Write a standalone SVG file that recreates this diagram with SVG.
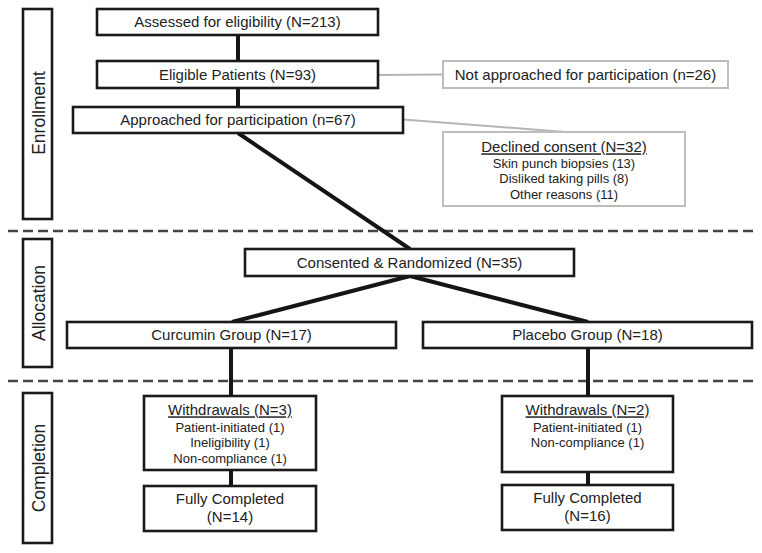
<svg xmlns="http://www.w3.org/2000/svg" width="762" height="553" viewBox="0 0 762 553">
<style>
  text { font-family: "Liberation Sans", Arial, sans-serif; fill: #222; text-anchor: middle; }
  .t15 { font-size: 15px; }
  .t13 { font-size: 13px; }
  .side { font-size: 17.5px; }
  .box { fill: #fff; stroke: #1a1a1a; stroke-width: 2.6; }
  .gbox { fill: #fff; stroke: #bdbdbd; stroke-width: 2; }
  .conn { stroke: #151515; stroke-width: 4; fill: none; }
  .gconn { stroke: #b5b5b5; stroke-width: 2; fill: none; }
  .dash { stroke: #444; stroke-width: 2.5; stroke-dasharray: 10 5; fill: none; }
  .u { text-decoration: underline; }
</style>
<rect width="762" height="553" fill="#fff"/>

<g id="separators">
  <line class="dash" x1="8" y1="231" x2="757" y2="231"/>
  <line class="dash" x1="8" y1="381" x2="757" y2="381"/>
</g>

<g id="connectors">
  <line class="conn" x1="238" y1="35" x2="238" y2="61"/>
  <line class="conn" x1="238" y1="88" x2="238" y2="107"/>
  <line class="conn" x1="238" y1="133" x2="410" y2="249"/>
  <line class="conn" x1="410" y1="276" x2="232" y2="322"/>
  <line class="conn" x1="410" y1="276" x2="588" y2="322"/>
  <line class="conn" x1="231" y1="348" x2="231" y2="396"/>
  <line class="conn" x1="231" y1="470" x2="231" y2="486"/>
  <line class="conn" x1="588" y1="348" x2="588" y2="396"/>
  <line class="conn" x1="588" y1="472" x2="588" y2="485"/>
  <line class="gconn" x1="378" y1="75" x2="443" y2="74.5"/>
  <line class="gconn" x1="403" y1="119.5" x2="565" y2="132"/>
</g>

<g id="stage-enrollment">
  <rect class="box" x="23" y="9" width="29" height="210"/>
  <text class="side" transform="translate(45 113) rotate(-90)">Enrollment</text>
</g>
<g id="stage-allocation">
  <rect class="box" x="23" y="239" width="29" height="128"/>
  <text class="side" transform="translate(45 303) rotate(-90)">Allocation</text>
</g>
<g id="stage-completion">
  <rect class="box" x="23" y="393" width="29" height="150"/>
  <text class="side" transform="translate(45 468) rotate(-90)">Completion</text>
</g>

<g id="assessed">
  <rect class="box" x="97" y="9" width="281" height="26"/>
  <text class="t15" x="237.5" y="27.3">Assessed for eligibility (N=213)</text>
</g>
<g id="eligible">
  <rect class="box" x="97" y="61" width="281" height="27"/>
  <text class="t15" x="237.5" y="79.8">Eligible Patients (N=93)</text>
</g>
<g id="not-approached">
  <rect class="gbox" x="443" y="61" width="285" height="27"/>
  <text class="t15" x="585.5" y="79.8">Not approached for participation (n=26)</text>
</g>
<g id="approached">
  <rect class="box" x="73" y="107" width="330" height="26"/>
  <text class="t15" x="238" y="125.3">Approached for participation (n=67)</text>
</g>
<g id="declined">
  <rect class="gbox" x="443" y="132" width="242" height="74"/>
  <text class="t15 u" x="564" y="152.3">Declined consent (N=32)</text>
  <text class="t13" x="564" y="167.6">Skin punch biopsies (13)</text>
  <text class="t13" x="564" y="183">Disliked taking pills (8)</text>
  <text class="t13" x="564" y="198.5">Other reasons (11)</text>
</g>
<g id="consented">
  <rect class="box" x="245" y="249" width="329" height="27"/>
  <text class="t15" x="409.5" y="267.8">Consented &amp; Randomized (N=35)</text>
</g>
<g id="curcumin">
  <rect class="box" x="67" y="322" width="329" height="26"/>
  <text class="t15" x="231.5" y="340.3">Curcumin Group (N=17)</text>
</g>
<g id="placebo">
  <rect class="box" x="423" y="322" width="329" height="26"/>
  <text class="t15" x="587.5" y="340.3">Placebo Group (N=18)</text>
</g>
<g id="withdrawals-curcumin">
  <rect class="box" x="144" y="396" width="172" height="74"/>
  <text class="t15 u" x="230" y="415.3">Withdrawals (N=3)</text>
  <text class="t13" x="230" y="431.6">Patient-initiated (1)</text>
  <text class="t13" x="230" y="447">Ineligibility (1)</text>
  <text class="t13" x="230" y="462.6">Non-compliance (1)</text>
</g>
<g id="withdrawals-placebo">
  <rect class="box" x="502" y="396" width="171" height="76"/>
  <text class="t15 u" x="587.5" y="415.3">Withdrawals (N=2)</text>
  <text class="t13" x="587.5" y="431.6">Patient-initiated (1)</text>
  <text class="t13" x="587.5" y="447">Non-compliance (1)</text>
</g>
<g id="completed-curcumin">
  <rect class="box" x="144" y="486" width="172" height="45"/>
  <text class="t15" x="230" y="504.3">Fully Completed</text>
  <text class="t15" x="230" y="522.3">(N=14)</text>
</g>
<g id="completed-placebo">
  <rect class="box" x="502" y="485" width="171" height="45"/>
  <text class="t15" x="587.5" y="503.3">Fully Completed</text>
  <text class="t15" x="587.5" y="521.3">(N=16)</text>
</g>
</svg>
